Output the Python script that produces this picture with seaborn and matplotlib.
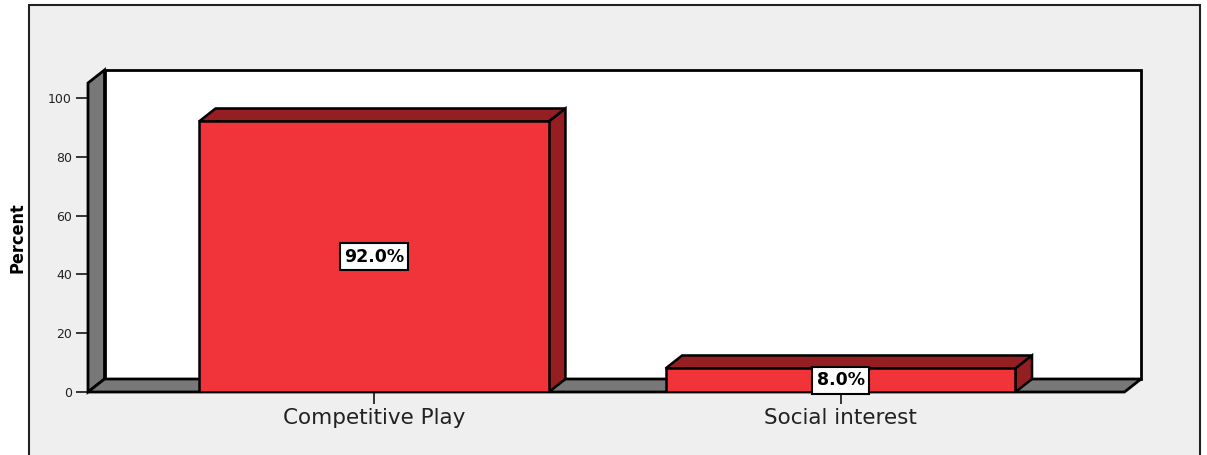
import pandas as pd
import matplotlib
matplotlib.use("Agg")
import matplotlib.pyplot as plt
from matplotlib.patches import Polygon, Rectangle
import seaborn as sns

# data
categories = ["Competitive Play", "Social interest"]
percents = [92.0, 8.0]
y_ticks = [0, 20, 40, 60, 80, 100]

front_red = "#F0343A"
dark_red = "#951E23"
wall_gray = "#787878"

df = pd.DataFrame({"reason": categories, "percent": percents})

sns.set_style("white")
plt.rcParams["font.family"] = ["DejaVu Sans"]

fig = plt.figure(figsize=(12.07, 4.55), dpi=100)
fig.patch.set_facecolor("white")

# grey SPSS-like panel behind the chart
fig.patches.append(Rectangle((29 / 1207, -0.05), (1200 - 29) / 1207, 1.05 - 5 / 455,
                             transform=fig.transFigure, facecolor="#EFEFEF",
                             edgecolor="#222222", linewidth=1.5, zorder=-10))

ax = fig.add_axes([88 / 1207, 63 / 455, 1053 / 1207, 322 / 455])
ax.set_facecolor("none")

# depth of the fake 3d effect in data units
dx, dy = 0.0354, 4.42
x_left, x_right, y_top = -0.613, 1.644, 109.5
floor_right = x_right - dx

# back wall, left wall and floor
ax.add_patch(Rectangle((x_left + dx, dy), x_right - x_left - dx, y_top - dy,
                       facecolor="white", edgecolor="black", linewidth=2, zorder=1,
                       clip_on=False))
ax.add_patch(Polygon([(x_left, 0), (x_left + dx, dy), (x_left + dx, y_top), (x_left, y_top - dy)],
                     closed=True, facecolor=wall_gray, edgecolor="black", linewidth=2,
                     zorder=1, clip_on=False))
ax.add_patch(Polygon([(x_left, 0), (floor_right, 0), (floor_right + dx, dy), (x_left + dx, dy)],
                     closed=True, facecolor=wall_gray, edgecolor="black", linewidth=2,
                     zorder=1, clip_on=False))

sns.barplot(data=df, x="reason", y="percent", color=front_red, saturation=1,
            width=0.75, edgecolor="black", linewidth=1.8, ax=ax, zorder=3)

# top and side faces of every bar
bars = [p for p in ax.patches if isinstance(p, Rectangle) and p.get_zorder() == 3]
for bar in bars:
    x0, w, h = bar.get_x(), bar.get_width(), bar.get_height()
    top = [(x0, h), (x0 + dx, h + dy), (x0 + w + dx, h + dy), (x0 + w, h)]
    side = [(x0 + w, 0), (x0 + w, h), (x0 + w + dx, h + dy), (x0 + w + dx, dy)]
    for pts in (top, side):
        ax.add_patch(Polygon(pts, closed=True, facecolor=dark_red, edgecolor="black",
                             linewidth=1.8, zorder=2.5))
    ax.text(x0 + w / 2, h / 2, f"{h:.1f}%", ha="center", va="center", fontsize=12.5,
            fontweight="bold", color="black", zorder=5,
            bbox=dict(boxstyle="square,pad=0.25", facecolor="white", edgecolor="black",
                      linewidth=1.5))

ax.set_xlim(x_left, x_right)
ax.set_ylim(0, y_top)
ax.set_yticks(y_ticks)
for s in ax.spines.values():
    s.set_visible(False)
ax.tick_params(axis="y", direction="out", length=8.5, width=1.3, labelsize=9,
               labelcolor="#222222", pad=3, left=True)
ax.tick_params(axis="x", direction="out", length=8.5, width=1.3, labelsize=15.5,
               labelcolor="#222222", pad=3, bottom=True)
ax.set_xlabel("")
ax.set_ylabel("")

fig.text(18 / 1207, 1 - 238 / 455, "Percent", rotation=90, ha="center", va="center",
         fontsize=13, fontweight="bold", color="black", fontstretch="condensed",
         family=["Liberation Sans Narrow", "DejaVu Sans"])

fig.savefig("out.png", dpi=100)
